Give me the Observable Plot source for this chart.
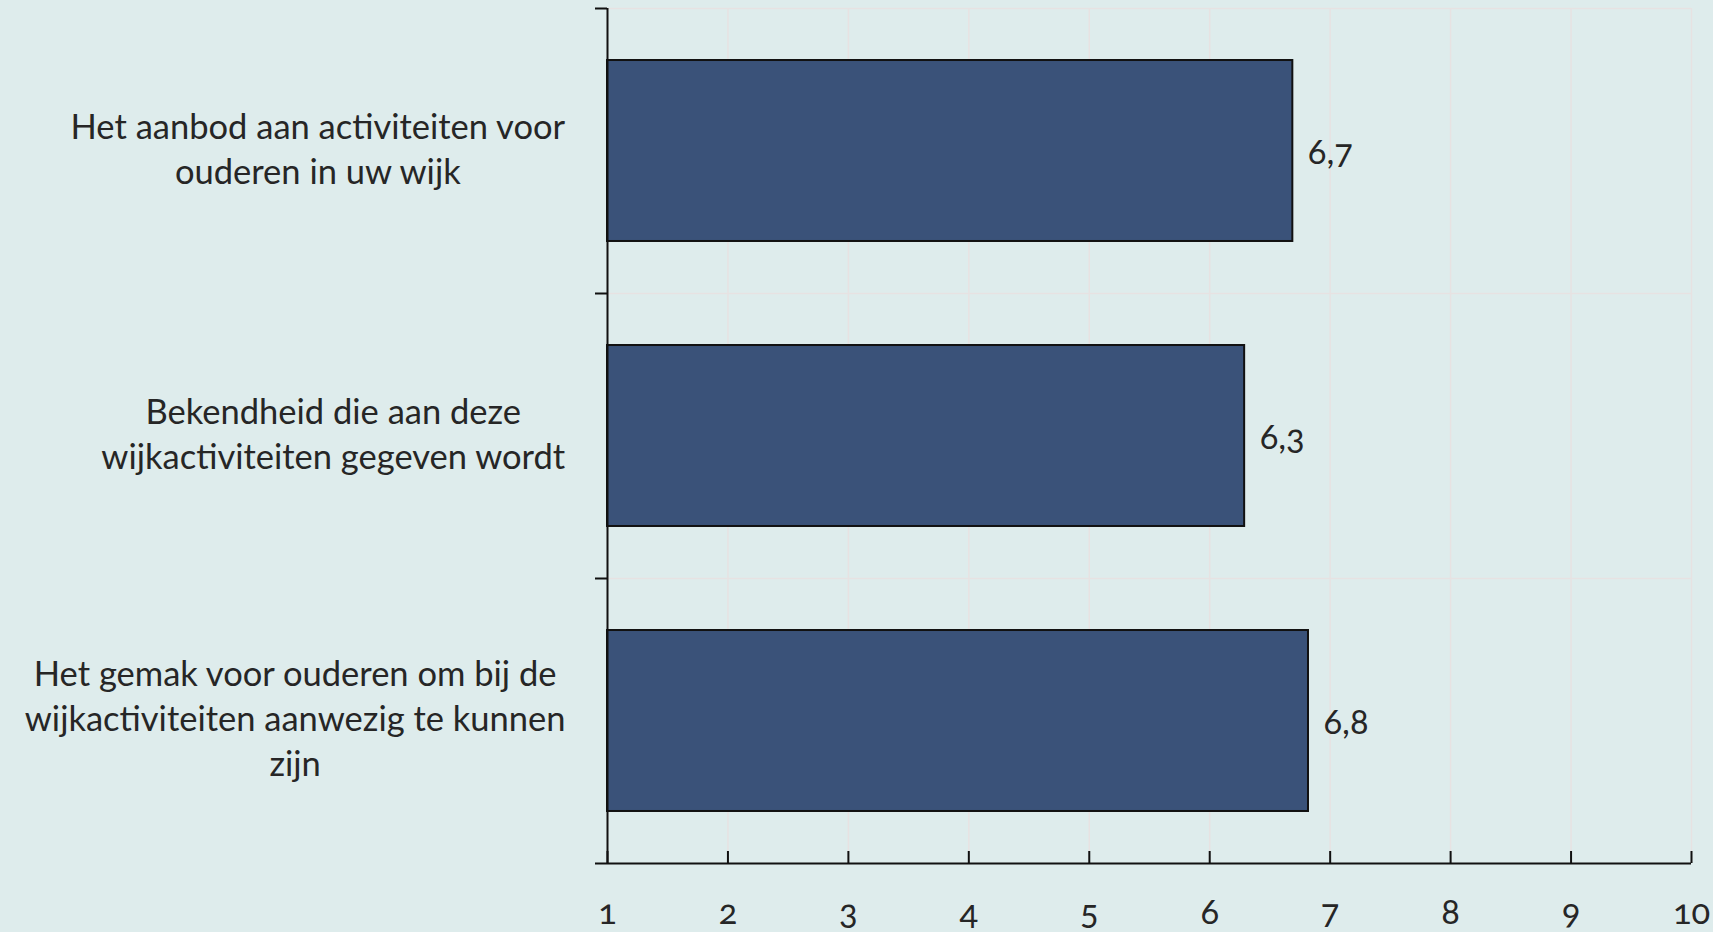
<!DOCTYPE html>
<html><head><meta charset="utf-8">
<script src="https://cdn.jsdelivr.net/npm/d3@7"></script>
<script src="https://cdn.jsdelivr.net/npm/@observablehq/plot@0.6"></script>
<style>
html,body{margin:0;padding:0;background:#deecec;overflow:hidden}
#chart svg{display:block}
#chart svg text{font-variant-numeric:oldstyle-nums}
</style></head><body><div id="chart"></div>
<script>
const categories = [
  "Het aanbod aan activiteiten voor\nouderen in uw wijk",
  "Bekendheid die aan deze\nwijkactiviteiten gegeven wordt",
  "Het gemak voor ouderen om bij de\nwijkactiviteiten aanwezig te kunnen\nzijn"
];
const values = [6.69, 6.29, 6.82];
const valueLabels = ["6,7", "6,3", "6,8"];
const xTicks = [1, 2, 3, 4, 5, 6, 7, 8, 9, 10];

const W = 1713, H = 932, mL = 607, mR = 22, mT = 8, mB = 69;
const FONT = "Lato";
const FS = 34.5;
const step = (H - mT - mB) / categories.length;
const ink = "#262626", axisInk = "#111111", grid = "#e7e2e2";

const data = categories.map((c, i) => ({cat: c, value: values[i], label: valueLabels[i]}));

const ctx = document.createElement("canvas").getContext("2d");
ctx.font = `${FS}px ${FONT}`;
const blockW = c => Math.max(...c.split("\n").map(l => ctx.measureText(l).width));
const labelGap = 42;

const chart = Plot.plot({
  width: W, height: H,
  marginLeft: mL, marginRight: mR, marginTop: mT, marginBottom: mB,
  style: {background: "transparent", fontFamily: FONT, color: ink},
  x: {domain: [1, 10], ticks: xTicks},
  y: {domain: categories, type: "band", paddingInner: 0.365, paddingOuter: 0.1825, round: false, axis: null},
  marks: [
    Plot.gridX(xTicks, {stroke: grid, strokeOpacity: 1, strokeWidth: 1.5}),
    Plot.ruleY(categories, {y: d => d, dy: -step / 2, stroke: grid, strokeWidth: 1.5}),
    Plot.barX(data, {x1: 1, x2: "value", y: "cat", fill: "#3a5279", stroke: axisInk, strokeWidth: 2}),
    Plot.text(data, {x: "value", y: "cat", text: "label", textAnchor: "start", dx: 15, dy: 2, fontSize: FS, fill: ink}),
    ...categories.map(c => Plot.text([c], {
      x: 1, y: d => d, text: d => d, textAnchor: "middle",
      dx: -(labelGap + blockW(c) / 2), dy: -4, fontSize: FS, lineHeight: 45 / FS, fill: ink
    })),
    Plot.ruleX([1], {stroke: axisInk, strokeWidth: 2}),
    Plot.ruleY(categories, {y: d => d, dy: -step / 2, x1: 1, x2: 1, insetLeft: -12, stroke: axisInk, strokeWidth: 2}),
    Plot.ruleY([categories[categories.length - 1]], {y: d => d, dy: step / 2, x1: 1, x2: 10, insetLeft: -12, stroke: axisInk, strokeWidth: 2}),
    Plot.ruleX(xTicks, {x: d => d, insetTop: (H - mT - mB) - 12, stroke: axisInk, strokeWidth: 2}),
    Plot.axisX({ticks: xTicks, tickSize: 0, tickPadding: 36, fontSize: FS, tickFormat: d => String(d), label: null, fill: ink})
  ]
});
document.getElementById("chart").appendChild(chart);
</script></body></html>
